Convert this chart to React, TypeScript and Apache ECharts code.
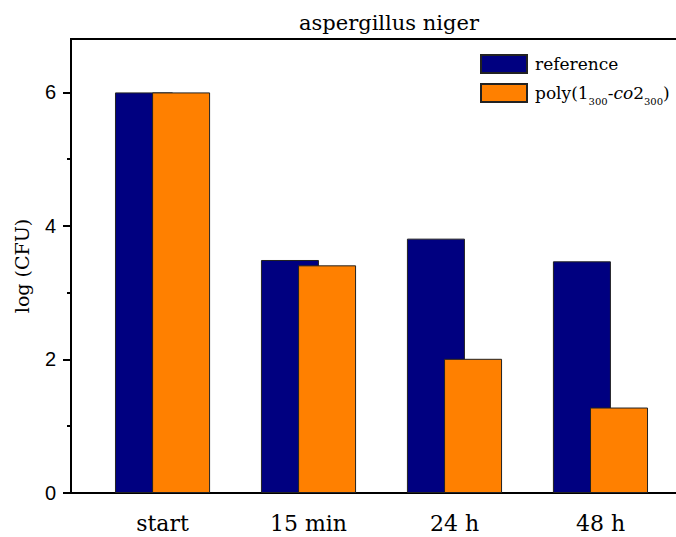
import React, { useEffect, useRef } from "react";
import * as echarts from "echarts";

const categories = ["start", "15 min", "24 h", "48 h"];
const positions = [1, 2, 3, 4];
const referenceValues = [6.0, 3.49, 3.81, 3.47];
const polyValues = [6.0, 3.41, 2.01, 1.28];
const yMajorTicks = [0, 2, 4, 6];
const yMinorTicks = [1, 3, 5];
const seriesNames = ["reference", "poly(1300-co2300)"];

const SERIF = "'DejaVu Serif', serif";
const SANS = "'Liberation Sans', Arial, sans-serif";

export default function App() {
  const ref = useRef<HTMLDivElement>(null);
  useEffect(() => {
    if (!ref.current) return;
    const chart = echarts.init(ref.current, null, { renderer: "svg" });
    const option: any = {
      animation: false,
      backgroundColor: "#ffffff",
      title: {
        text: "aspergillus niger",
        left: 294,
        top: 7,
        textStyle: { fontFamily: SERIF, fontSize: 21, fontWeight: "normal", color: "#000" },
      },
      legend: {
        orient: "vertical",
        left: 480,
        top: 54,
        padding: 0,
        itemWidth: 46,
        itemHeight: 18,
        itemGap: 9,
        icon: "rect",
        data: seriesNames,
        formatter: (name: string) =>
          name === seriesNames[0]
            ? "{n|reference}"
            : "{n|poly(1}{s|300}{n|-}{i|co}{n|2}{s|300}{n|)}",
        textStyle: {
          padding: [0, 0, 0, 3],
          color: "#000",
          rich: {
            n: { fontFamily: SERIF, fontSize: 17, color: "#000", lineHeight: 26, verticalAlign: "middle" },
            i: { fontFamily: SERIF, fontSize: 17, fontStyle: "italic", color: "#000", lineHeight: 26, verticalAlign: "middle" },
            s: { fontFamily: SERIF, fontSize: 10, color: "#000", lineHeight: 10, verticalAlign: "bottom" },
          },
        },
      },
      grid: {
        left: 71,
        top: 39,
        bottom: 44,
        right: -16,
        show: true,
        borderColor: "#000",
        borderWidth: 2,
        containLabel: false,
        outerBoundsMode: "none",
      },
      xAxis: {
        type: "value",
        min: 0.373,
        max: 4.627,
        splitLine: { show: false },
        axisTick: { show: false },
        axisLine: { show: true, lineStyle: { color: "#000", width: 2 } },
        axisLabel: {
          customValues: positions,
          formatter: (v: number) => categories[Math.round(v) - 1] ?? "",
          fontFamily: SERIF,
          fontSize: 22,
          color: "#000",
          margin: 19,
        },
      },
      yAxis: [
        {
          type: "value",
          min: 0,
          max: 6.8,
          name: "log (CFU)",
          nameLocation: "middle",
          nameGap: 40,
          nameTextStyle: { fontFamily: SERIF, fontSize: 19, color: "#000" },
          splitLine: { show: false },
          axisLine: { show: true, lineStyle: { color: "#000", width: 2 } },
          axisTick: { show: true, customValues: yMajorTicks, length: 8, lineStyle: { color: "#000", width: 2 } },
          axisLabel: {
            customValues: yMajorTicks,
            fontFamily: SANS,
            fontSize: 20,
            color: "#000",
            margin: 15,
          },
        },
        {
          type: "value",
          min: 0,
          max: 6.8,
          position: "left",
          offset: 0,
          splitLine: { show: false },
          axisLine: { show: false },
          axisLabel: { show: false },
          axisTick: { show: true, customValues: yMinorTicks, length: 4, lineStyle: { color: "#000", width: 2 } },
        },
      ],
      series: [
        {
          name: seriesNames[0],
          type: "bar",
          yAxisIndex: 0,
          barWidth: 58,
          barGap: "-36%",
          itemStyle: { color: "#000080", borderColor: "#222", borderWidth: 1 },
          data: positions.map((p, i) => [p, referenceValues[i]]),
        },
        {
          name: seriesNames[1],
          type: "bar",
          yAxisIndex: 0,
          barWidth: 58,
          barGap: "-36%",
          itemStyle: { color: "#FF8000", borderColor: "#222", borderWidth: 1 },
          data: positions.map((p, i) => [p, polyValues[i]]),
        },
      ],
    };
    chart.setOption(option);
    return () => chart.dispose();
  }, []);
  return (
    <div
      ref={ref}
      style={{ position: "absolute", left: 0, top: 0, width: 676, height: 537 }}
    />
  );
}
